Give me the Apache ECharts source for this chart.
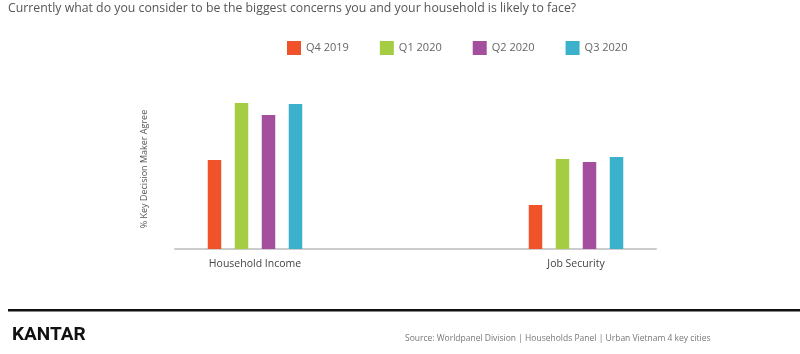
<!DOCTYPE html>
<html>
<head>
<meta charset="utf-8">
<script src="https://cdn.jsdelivr.net/npm/echarts@6/dist/echarts.min.js"></script>
<style>
html,body{margin:0;padding:0;background:#fff;}
#chart{width:800px;height:354px;}
</style>
</head>
<body>
<div id="chart"></div>
<script>
const categories = ['Household Income', 'Job Security'];
const seriesNames = ['Q4 2019', 'Q1 2020', 'Q2 2020', 'Q3 2020'];
const q4_2019 = [55.6, 27.5];
const q1_2020 = [91.3, 56.3];
const q2_2020 = [83.8, 54.4];
const q3_2020 = [90.6, 57.5];
const seriesValues = [q4_2019, q1_2020, q2_2020, q3_2020];
const colors = ['#f0532a', '#a5cd44', '#a34f9d', '#3cb1cc'];
const titleText = 'Currently what do you consider to be the biggest concerns you and your household is likely to face?';
const yName = '% Key Decision Maker Agree';
const sourceText = 'Source: Worldpanel Division | Households Panel | Urban Vietnam 4 key cities';

const chart = echarts.init(document.getElementById('chart'));
const font = '"Open Sans", Lato, sans-serif';
chart.setOption({
  animation: false,
  textStyle: { fontFamily: font },
  title: {
    text: titleText, left: 3, top: -3,
    textStyle: { fontSize: 12.3, fontWeight: 'normal', color: '#555', fontFamily: font }
  },
  legend: {
    data: seriesNames, left: 282, top: 36,
    icon: 'rect', itemWidth: 14, itemHeight: 14, itemGap: 31,
    textStyle: { fontSize: 11, color: '#666', fontFamily: font }
  },
  grid: [
    { left: 94.5, right: 63.5, top: 89, bottom: 105 },
    { left: 175, right: 144, top: 89, bottom: 105 }
  ],
  xAxis: [
    { type: 'category', gridIndex: 0, data: categories,
      axisLine: { show: false }, axisTick: { show: false },
      axisLabel: { margin: 10, fontSize: 10.5, color: '#444', fontFamily: font } },
    { type: 'category', gridIndex: 1, data: categories,
      axisLine: { show: true, lineStyle: { color: '#cccccc', width: 2 } },
      axisTick: { show: false }, axisLabel: { show: false } }
  ],
  yAxis: [
    { type: 'value', gridIndex: 0, min: 0, max: 100, show: false },
    { type: 'value', gridIndex: 1, min: 0, max: 100,
      name: yName, nameLocation: 'middle', nameGap: 26,
      nameTextStyle: { fontSize: 9, color: '#555', fontFamily: font },
      axisLine: { show: false }, axisTick: { show: false },
      axisLabel: { show: false }, splitLine: { show: false } }
  ],
  series: seriesNames.map((n, i) => ({
    name: n, type: 'bar', xAxisIndex: 0, yAxisIndex: 0,
    data: seriesValues[i], barWidth: 13.5, barGap: '100%',
    itemStyle: { color: colors[i] }
  })),
  color: colors,
  graphic: [
    { type: 'rect', shape: { x: 8, y: 309, width: 792, height: 2.5 }, style: { fill: '#111' } },
    { type: 'text', left: 12, top: 326, style: { text: 'KANTAR', fontSize: 19, fontWeight: 'bold', fill: '#111', fontFamily: 'Roboto, sans-serif' } },
    { type: 'text', left: 405, top: 334, style: { text: sourceText, fontSize: 8.5, fill: '#777', fontFamily: font } }
  ]
});
</script>
</body>
</html>
